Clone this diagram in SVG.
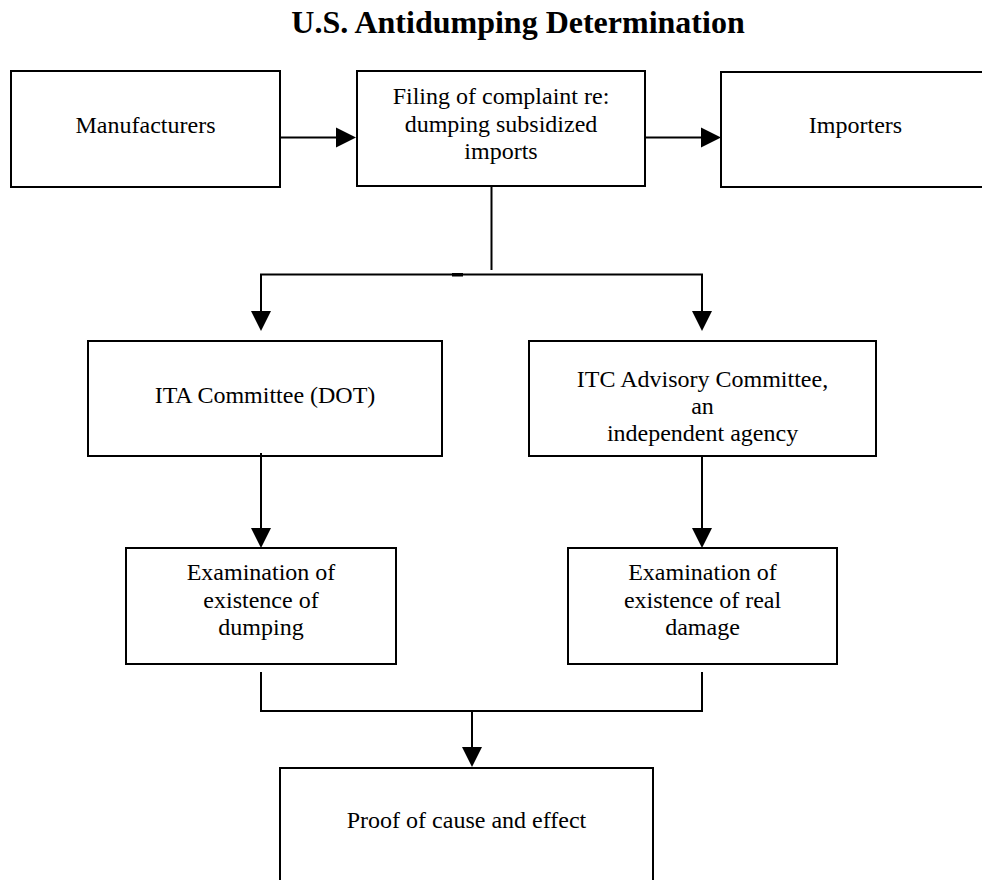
<svg xmlns="http://www.w3.org/2000/svg" width="982" height="880" viewBox="0 0 982 880">
<style>
.box{fill:#fff;stroke:#000;stroke-width:2}
.t{font-family:"Liberation Serif","Times New Roman",serif;font-size:24px;fill:#000;text-anchor:middle}
.title{font-family:"Liberation Serif","Times New Roman",serif;font-size:32px;font-weight:bold;fill:#000;text-anchor:middle}
.ln{fill:none;stroke:#000;stroke-width:2}
.ah{fill:#000;stroke:none}
</style>
<rect width="982" height="880" fill="#fff"/>
<text class="title" x="518" y="33">U.S. Antidumping Determination</text>
<g id="manufacturers">
<rect class="box" x="11" y="71" width="269" height="116"/>
<text class="t" x="145.5" y="133">Manufacturers</text>
</g>
<g id="filing">
<rect class="box" x="357" y="71" width="288" height="115"/>
<text class="t" x="501" y="104">Filing of complaint re:</text>
<text class="t" x="501" y="131.5">dumping subsidized</text>
<text class="t" x="501" y="159">imports</text>
</g>
<g id="importers">
<rect class="box" x="721" y="72" width="269" height="115"/>
<text class="t" x="855.5" y="133">Importers</text>
</g>
<g id="ita">
<rect class="box" x="88" y="341" width="354" height="115"/>
<text class="t" x="265" y="403">ITA Committee (DOT)</text>
</g>
<g id="itc">
<rect class="box" x="529" y="341" width="347" height="115"/>
<text class="t" x="702.5" y="387">ITC Advisory Committee,</text>
<text class="t" x="702.5" y="414">an</text>
<text class="t" x="702.5" y="441">independent agency</text>
</g>
<g id="exam-dumping">
<rect class="box" x="126" y="548" width="270" height="116"/>
<text class="t" x="261" y="580">Examination of</text>
<text class="t" x="261" y="607.5">existence of</text>
<text class="t" x="261" y="635">dumping</text>
</g>
<g id="exam-damage">
<rect class="box" x="568" y="548" width="269" height="116"/>
<text class="t" x="702.5" y="580">Examination of</text>
<text class="t" x="702.5" y="607.5">existence of real</text>
<text class="t" x="702.5" y="635">damage</text>
</g>
<g id="proof">
<rect class="box" x="280" y="768" width="373" height="130"/>
<text class="t" x="466.5" y="828">Proof of cause and effect</text>
</g>
<g id="connectors">
<line class="ln" x1="280" y1="137.5" x2="337" y2="137.5"/>
<polygon class="ah" points="336,127.5 356,137.5 336,147.5"/>
<line class="ln" x1="645" y1="137.5" x2="703" y2="137.5"/>
<polygon class="ah" points="701,127.5 721,137.5 701,147.5"/>
<line class="ln" x1="491.5" y1="186" x2="491.5" y2="270"/>
<polyline class="ln" points="261,312 261,274.5 702,274.5 702,312"/>
<rect x="452" y="273" width="11" height="3.5" fill="#000"/>
<polygon class="ah" points="251,311 271,311 261,331"/>
<polygon class="ah" points="692,311 712,311 702,331"/>
<line class="ln" x1="261" y1="453" x2="261" y2="529"/>
<polygon class="ah" points="251,528 271,528 261,548"/>
<line class="ln" x1="702" y1="456" x2="702" y2="529"/>
<polygon class="ah" points="692,528 712,528 702,548"/>
<polyline class="ln" points="261,672 261,711 702,711 702,672"/>
<line class="ln" x1="472" y1="711" x2="472" y2="748"/>
<polygon class="ah" points="462,747 482,747 472,767"/>
</g>
</svg>
